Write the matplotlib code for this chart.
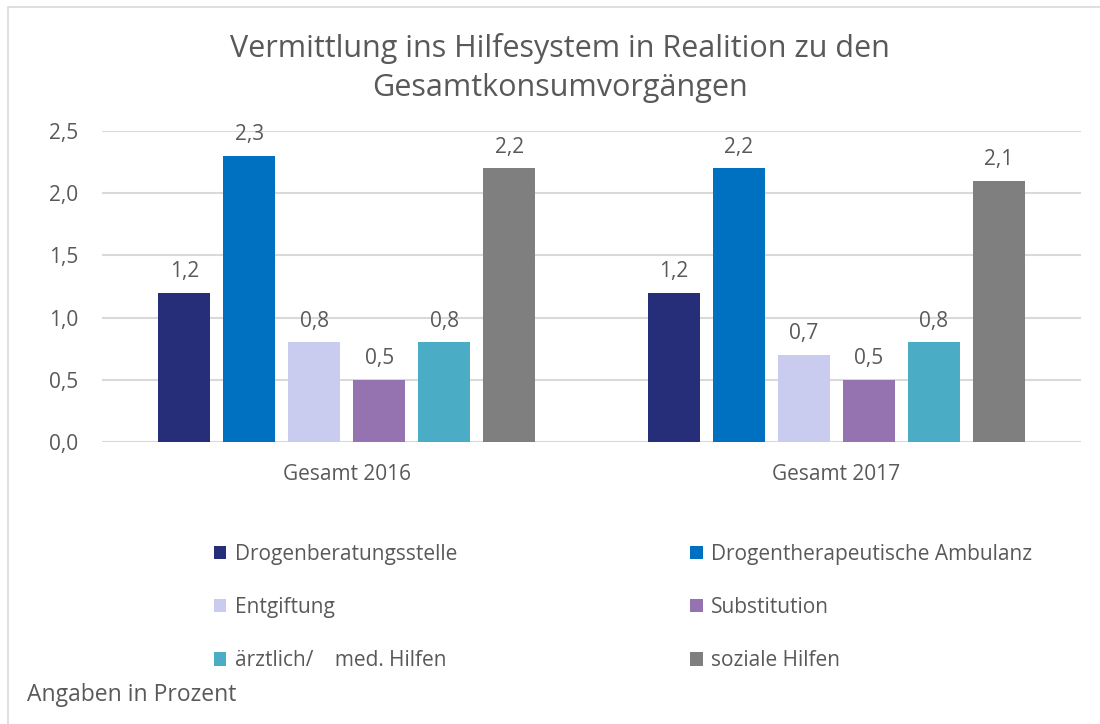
import matplotlib.pyplot as plt
import numpy as np
from matplotlib.patches import Rectangle

plt.rcParams['font.family'] = ['Open Sans', 'DejaVu Sans']

# Daten
kategorien = ['Gesamt 2016', 'Gesamt 2017']
serien = ['Drogenberatungsstelle', 'Drogentherapeutische Ambulanz', 'Entgiftung',
          'Substitution', 'ärztlich/    med. Hilfen', 'soziale Hilfen']
werte_2016 = [1.2, 2.3, 0.8, 0.5, 0.8, 2.2]
werte_2017 = [1.2, 2.2, 0.7, 0.5, 0.8, 2.1]
farben = ['#262E7A', '#0070C0', '#C9CCEE', '#9473B0', '#4BACC6', '#7F7F7F']

text_farbe = '#595959'
raster_farbe = '#D9D9D9'

fig = plt.figure(figsize=(11, 7.24), dpi=100)
# Rahmen um das Diagramm (rechts/unten abgeschnitten)
fig.patches.append(Rectangle((8 / 1100, -0.1), 1.2, 1.1 - 7 / 724, transform=fig.transFigure,
                             fill=False, edgecolor='#D9D9D9', linewidth=1.2))

ax = fig.add_axes([102 / 1100, 1 - 442 / 724, 979 / 1100, 311 / 724])

x = np.arange(len(kategorien))
breite = 0.106
abstand = 0.1327
werte = np.array([werte_2016, werte_2017]).T

for i, (name, farbe) in enumerate(zip(serien, farben)):
    pos = x + (i - 2.5) * abstand
    bars = ax.bar(pos, werte[i], width=breite, color=farbe, label=name, zorder=3)
    for b, v in zip(bars, werte[i]):
        ax.text(b.get_x() + b.get_width() / 2, v + 0.085, f'{v:.1f}'.replace('.', ','),
                ha='center', va='bottom', fontsize=15, color=text_farbe)

ax.set_xlim(-0.5, 1.5)
ax.set_ylim(0, 2.5)
ax.set_yticks(np.arange(0, 2.51, 0.5))
ax.set_yticklabels([f'{t:.1f}'.replace('.', ',') for t in np.arange(0, 2.51, 0.5)])
ax.set_xticks(x)
ax.set_xticklabels(kategorien)
ax.tick_params(axis='both', length=0, labelsize=15, colors=text_farbe)
ax.tick_params(axis='y', pad=17)
ax.tick_params(axis='x', pad=16)
ax.yaxis.grid(True, color=raster_farbe, linewidth=1.5, zorder=0)
for s in ax.spines.values():
    s.set_visible(False)

# Titel
fig.text(560 / 1100, 1 - 68 / 724, 'Vermittlung ins Hilfesystem in Realition zu den\nGesamtkonsumvorgängen',
         ha='center', va='center', fontsize=22, color=text_farbe, linespacing=1.35)

# Legende (zeilenweise Reihenfolge)
handles, labels = ax.get_legend_handles_labels()
reihenfolge = [0, 2, 4, 1, 3, 5]
leg = fig.legend([handles[i] for i in reihenfolge], [labels[i] for i in reihenfolge],
                 ncol=2, loc='upper left', bbox_to_anchor=(195 / 1100, 1 - 525 / 724),
                 frameon=False, fontsize=15, handlelength=0.6, handleheight=0.6,
                 handletextpad=0.4, labelspacing=1.55, columnspacing=11.2)
for t in leg.get_texts():
    t.set_color(text_farbe)

fig.text(27 / 1100, 1 - 695 / 724, 'Angaben in Prozent', ha='left', va='center',
         fontsize=16.5, color=text_farbe)

plt.savefig('out.png', dpi=100)
plt.close()
